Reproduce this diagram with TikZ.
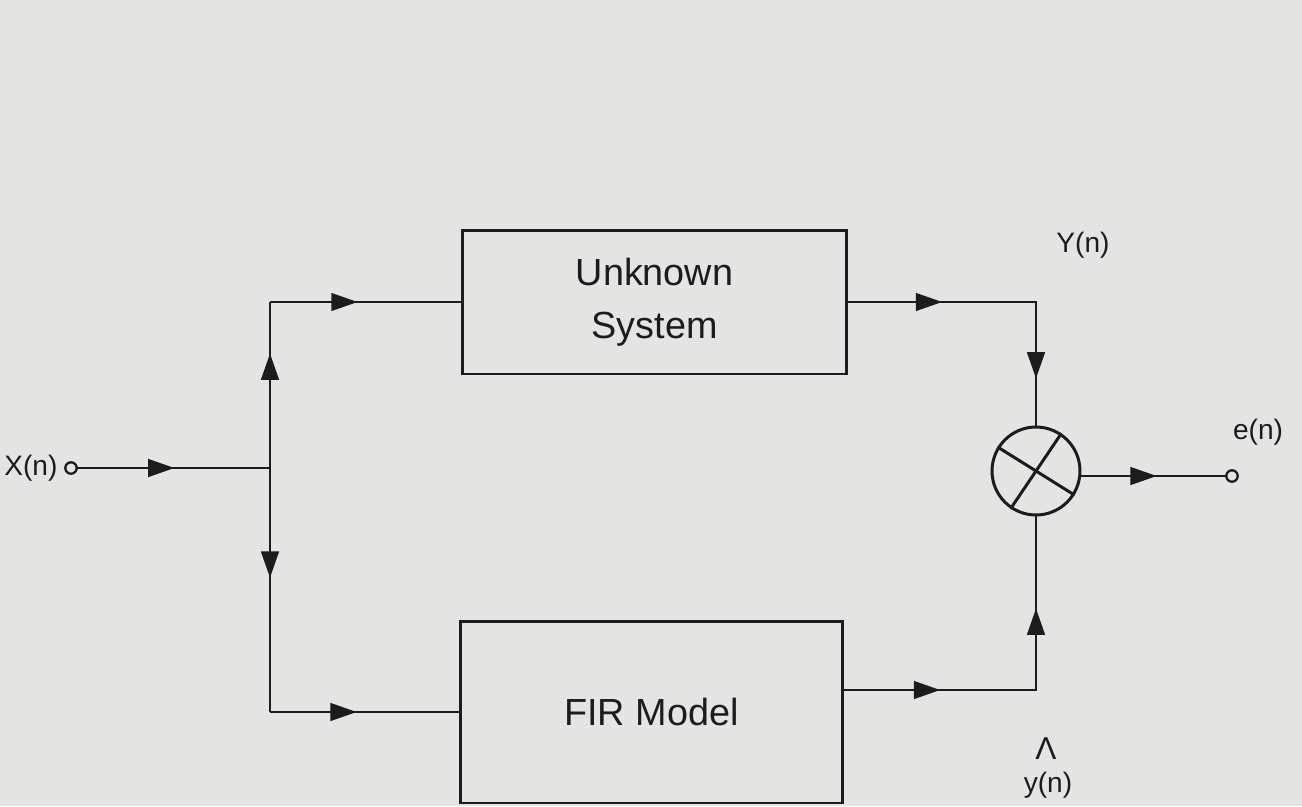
\documentclass[tikz,border=0pt]{standalone}
\usepackage{fontspec}
\setmainfont{Liberation Sans}
\usetikzlibrary{arrows.meta,decorations.markings}
\definecolor{bg}{RGB}{228,228,226}
\definecolor{ink}{RGB}{28,28,28}
\begin{document}
\begin{tikzpicture}[x=0.02cm,y=-0.02cm,
  wire/.style={draw=ink,line width=1.5pt},
  block/.style={draw=ink,line width=1.7pt,rectangle,inner sep=0pt,align=center,text=ink,font=\fontsize{21.5}{30}\selectfont},
  lbl/.style={font=\fontsize{16}{16}\selectfont,text=ink,inner sep=0pt},
  midarrow/.style={draw=ink,line width=1.5pt,postaction={decorate},decoration={markings,mark=at position #1 with {\arrow[ink]{Triangle[length=15pt,width=10pt]}}}},
  port/.style={circle,draw=ink,line width=1.3pt,fill=bg,inner sep=0pt,minimum size=6.5pt},
  sumnode/.style={circle,draw=ink,line width=1.7pt,inner sep=0pt,minimum size=1.76cm}]
\fill[bg] (0,0) rectangle (1302,806);
\useasboundingbox (0,0) rectangle (1302,806);
% blocks
\node[block,minimum width=7.7cm,minimum height=2.88cm] (unk) at (654.5,302) {Unknown\\System};
\node[block,minimum width=7.66cm,minimum height=3.64cm] (fir) at (651.5,712) {FIR Model};
\node[sumnode] (sum) at (1036,471) {};
\draw[ink,line width=1.7pt] (sum.148) -- (sum.-32);
\draw[ink,line width=1.7pt] (sum.56) -- (sum.236);
% ports and junctions
\coordinate (xin) at (71,468);
\coordinate (eout) at (1232,476);
\coordinate (j1) at (270,468);
\coordinate (jt) at (270,302);
\coordinate (jb) at (270,712);
\coordinate (c1) at (1036,302);
\coordinate (c2) at (1036,690);
% labels
\node[lbl,anchor=west] (xl) at (4,468) {X(n)};
\node[lbl] (yl) at (1083,245) {Y(n)};
\node[lbl] (el) at (1258,432) {e(n)};
\node[lbl,font=\fontsize{18}{18}\selectfont] (hat) at (1046,749) {Λ};
\node[lbl] (yhl) at (1048,785) {y(n)};
% wires
\draw[wire,line join=miter] (jt) -- (jb);
\draw[wire,line join=miter] (jt) -- (unk.west);
\draw[wire,line join=miter] (jb) -- (fir.west);
\draw[wire,line join=miter] (unk.east) -- (c1) -- (sum.north);
\draw[wire,line join=miter] (fir.east |- c2) -- (c2) -- (sum.south);
% arrows
\path[midarrow=0.52] (xin) -- (j1);
\path[midarrow=0.69] (j1) -- (jt);
\path[midarrow=0.45] (j1) -- (jb);
\path[midarrow=0.46] (jt) -- (unk.west);
\path[midarrow=0.46] (jb) -- (fir.west);
\path[midarrow=0.5] (unk.east) -- (c1);
\path[midarrow=0.62] (c1) -- (sum.north);
\path[midarrow=0.5] (fir.east |- c2) -- (c2);
\path[midarrow=0.47] (c2) -- (sum.south);
\path[midarrow=0.5] (sum.east |- eout) -- (eout);
\node[port] (pin) at (xin) {};
\node[port] (pout) at (eout) {};
\end{tikzpicture}
\end{document}
